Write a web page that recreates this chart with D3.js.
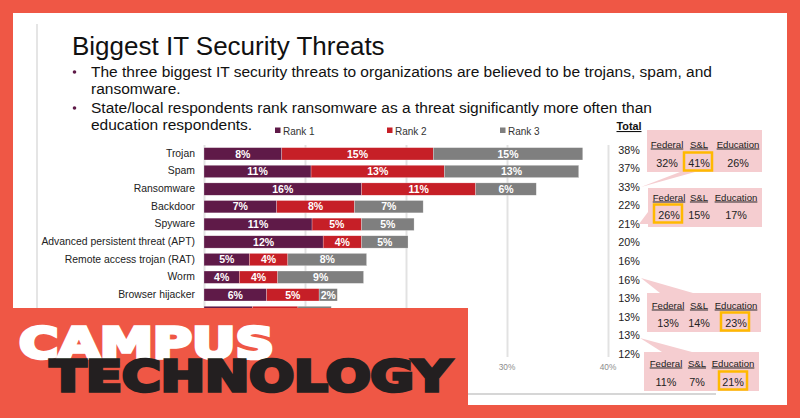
<!DOCTYPE html>
<html>
<head>
    <title>Biggest IT Security Threats</title>
    <script src="https://d3js.org/d3.v7.min.js"></script>
    <style>
        html, body { margin: 0; padding: 0; background: #ef5745; }
        svg { display: block; font-family: "Liberation Sans", Arial, sans-serif; }
        .grid line { stroke: #e2e2e2; stroke-width: 2; }
        .grid path { display: none; }
    </style>
</head>
<body>
    <svg id="chart" width="800" height="418"></svg>

    <script>
        const categories = ["Trojan", "Spam", "Ransomware", "Backdoor", "Spyware",
            "Advanced persistent threat (APT)", "Remote access trojan (RAT)", "Worm",
            "Browser hijacker", "", "", ""];
        // the last rows sit behind the logo, only the top edge of the 10th one shows
        const rank1 = [7.7, 10.6, 15.6, 7.2, 10.7, 11.8, 4.5, 3.5, 6.2, 4.8, 4.5, 4];
        const rank2 = [15.0, 13.2, 11.3, 7.7, 4.9, 3.8, 3.8, 3.8, 5.2, 4.5, 4.5, 4];
        const rank3 = [14.8, 13.3, 6.0, 6.8, 5.2, 4.6, 7.8, 8.5, 1.8, 3.3, 4, 4];
        const totals = ["38%", "37%", "33%", "22%", "21%", "20%", "16%", "16%", "13%", "13%", "13%", "12%"];
        const rankNames = ["Rank 1", "Rank 2", "Rank 3"];
        const rankColors = ["#5f1a48", "#c61f27", "#7f7f7f"];
        const axisTicks = [0, 10, 20, 30, 40];
        const visibleTickLabels = [30, 40];

        const groups = ["Federal", "S&L", "Education"];
        const ransomwareBySector = ["32%", "41%", "26%"];
        const backdoorBySector = ["26%", "15%", "17%"];
        const wormBySector = ["13%", "14%", "23%"];
        const hijackerBySector = ["11%", "7%", "21%"];

        const svg = d3.select("#chart");

        // slide background
        svg.append("rect").attr("x", 13).attr("y", 13).attr("width", 774).attr("height", 392).attr("fill", "#fff");
        svg.append("line").attr("x1", 37).attr("x2", 37).attr("y1", 24).attr("y2", 394).attr("stroke", "#dcdcdc").attr("stroke-width", 1.5);
        svg.append("line").attr("x1", 37).attr("x2", 716).attr("y1", 394).attr("y2", 394).attr("stroke", "#c8c8c8").attr("stroke-width", 1.5);

        // heading and bullets
        svg.append("text").attr("x", 72).attr("y", 55).attr("font-size", 26).attr("fill", "#111").text("Biggest IT Security Threats");
        const bullets = [
            ["The three biggest IT security threats to organizations are believed to be trojans, spam, and", 77, true],
            ["ransomware.", 94, false],
            ["State/local respondents rank ransomware as a threat significantly more often than", 113, true],
            ["education respondents.", 130, false]
        ];
        bullets.forEach(b => {
            svg.append("text").attr("x", 91).attr("y", b[1]).attr("font-size", 15.5).attr("fill", "#111").text(b[0]);
            if (b[2]) svg.append("circle").attr("cx", 74.5).attr("cy", b[1] - 5).attr("r", 1.8).attr("fill", rankColors[0]);
        });

        // scales
        const x = d3.scaleLinear().domain([0, 40]).range([204, 608]);
        const y = d3.scaleBand().domain(d3.range(categories.length)).range([145, 356.5]).paddingInner(0.3).paddingOuter(0.15);

        svg.append("g").attr("class", "grid")
            .attr("transform", "translate(0,145)")
            .call(d3.axisBottom(x).tickValues(axisTicks).tickSize(212).tickFormat(""));

        // stacked bars
        const stack = d3.stack().keys([0, 1, 2]).value((row, k) => row[k]);
        const rows = categories.map((c, i) => [rank1[i], rank2[i], rank3[i]]);
        const series = stack(rows);

        const layer = svg.selectAll(".rank").data(series).enter().append("g").attr("class", "rank");
        layer.selectAll("rect")
            .data(d => d)
            .enter()
            .append("rect")
            .attr("x", d => x(d[0]))
            .attr("y", (d, i) => y(i))
            .attr("width", d => x(d[1]) - x(d[0]))
            .attr("height", y.bandwidth())
            .attr("fill", function () { return rankColors[d3.select(this.parentNode).datum().key]; })
            .attr("stroke", "#fff")
            .attr("stroke-opacity", 0.5)
            .attr("stroke-width", 0.5);
        // no value labels on the rows the logo covers
        layer.selectAll("text")
            .data(d => d.filter((v, i) => categories[i] !== ""))
            .enter()
            .append("text")
            .attr("x", d => (x(d[0]) + x(d[1])) / 2)
            .attr("y", (d, i) => y(i) + y.bandwidth() / 2 + 3.8)
            .attr("text-anchor", "middle")
            .attr("font-size", 10.5)
            .attr("font-weight", "bold")
            .attr("fill", "#fff")
            .text(d => Math.round(d[1] - d[0]) + "%");

        // category labels
        svg.selectAll(".cat").data(categories.filter(c => c !== "")).enter().append("text")
            .attr("class", "cat")
            .attr("x", 195)
            .attr("y", (d, i) => y(i) + y.bandwidth() / 2 + 3)
            .attr("text-anchor", "end")
            .attr("font-size", 10.4)
            .attr("fill", "#222")
            .text(d => d);

        // value axis labels
        svg.selectAll(".tick-label").data(visibleTickLabels).enter().append("text")
            .attr("class", "tick-label")
            .attr("x", d => x(d))
            .attr("y", 370)
            .attr("text-anchor", "middle")
            .attr("font-size", 8.3)
            .attr("fill", "#8c8c8c")
            .text(d => d + "%");

        // legend
        const legendX = d3.scaleOrdinal().domain(rankNames).range([275, 387, 500]);
        rankNames.forEach((name, i) => {
            svg.append("rect").attr("x", legendX(name)).attr("y", 127.5).attr("width", 5.5).attr("height", 5.5).attr("fill", rankColors[i]);
            svg.append("text").attr("x", legendX(name) + 8).attr("y", 134.5).attr("font-size", 10).attr("fill", "#333").text(name);
        });

        // total column
        svg.append("text").attr("x", 629).attr("y", 130).attr("text-anchor", "middle").attr("font-size", 10.8)
            .attr("font-weight", "bold").attr("text-decoration", "underline").attr("fill", "#111").text("Total");
        const totalY = d3.scalePoint().domain(d3.range(totals.length)).range([149.5, 354]);
        svg.selectAll(".total").data(totals).enter().append("text")
            .attr("class", "total")
            .attr("x", 629)
            .attr("y", (d, i) => totalY(i) + 4)
            .attr("text-anchor", "middle")
            .attr("font-size", 10.8)
            .attr("fill", "#222")
            .text(d => d);

        // pink callouts
        const callouts = [
            { vals: ransomwareBySector, box: [647, 130, 115, 42], tail: "641,187 680,172 695,172", cx: [667, 699, 738], hy: 144, vy: 163, hx: 684 },
            { vals: backdoorBySector, box: [648, 188, 114, 39], tail: "639,224 648,212 648,224", cx: [669, 699, 736], hy: 197, vy: 215, hx: 654 },
            { vals: wormBySector, box: [647, 293, 114, 39], tail: "641,278 660,293 693,293", cx: [668, 699, 736], hy: 305, vy: 323, hx: 721 },
            { vals: hijackerBySector, box: [644, 352, 115, 39], tail: "640,338 662,352 692,352", cx: [666, 697, 733], hy: 363, vy: 382, hx: 719 }
        ];
        callouts.forEach(c => {
            const g = svg.append("g");
            g.append("polygon").attr("points", c.tail).attr("fill", "#f5cdd0");
            g.append("rect").attr("x", c.box[0]).attr("y", c.box[1]).attr("width", c.box[2]).attr("height", c.box[3]).attr("fill", "#f5cdd0");
            g.append("rect").attr("x", c.hx).attr("y", c.vy - 10.5).attr("width", 28).attr("height", 18)
                .attr("fill", "none").attr("stroke", "#ffb900").attr("stroke-width", 2.5);
            groups.forEach((name, i) => {
                g.append("text").attr("x", c.cx[i]).attr("y", c.hy + 3.5).attr("text-anchor", "middle").attr("font-size", 9.6)
                    .attr("text-decoration", "underline").attr("fill", "#222").text(name);
                g.append("text").attr("x", c.cx[i]).attr("y", c.vy + 3.5).attr("text-anchor", "middle").attr("font-size", 10.8)
                    .attr("fill", "#222").text(c.vals[i]);
            });
        });

        // logo panel
        svg.append("rect").attr("x", 0).attr("y", 308).attr("width", 468).attr("height", 110).attr("fill", "#ef5745");
        svg.append("text").attr("x", 19).attr("y", 358).attr("font-size", 43).attr("font-weight", "bold")
            .style("font-family", "'DejaVu Sans', sans-serif")
            .attr("textLength", 255).attr("lengthAdjust", "spacingAndGlyphs")
            .attr("fill", "#fff").attr("stroke", "#fff").attr("stroke-width", 3.5).text("CAMPUS");
        svg.append("text").attr("x", 50).attr("y", 391).attr("font-size", 43).attr("font-weight", "bold")
            .style("font-family", "'DejaVu Sans', sans-serif")
            .attr("textLength", 401).attr("lengthAdjust", "spacingAndGlyphs")
            .attr("fill", "#231f20").attr("stroke", "#231f20").attr("stroke-width", 3.5).text("TECHNOLOGY");
    </script>
</body>
</html>
